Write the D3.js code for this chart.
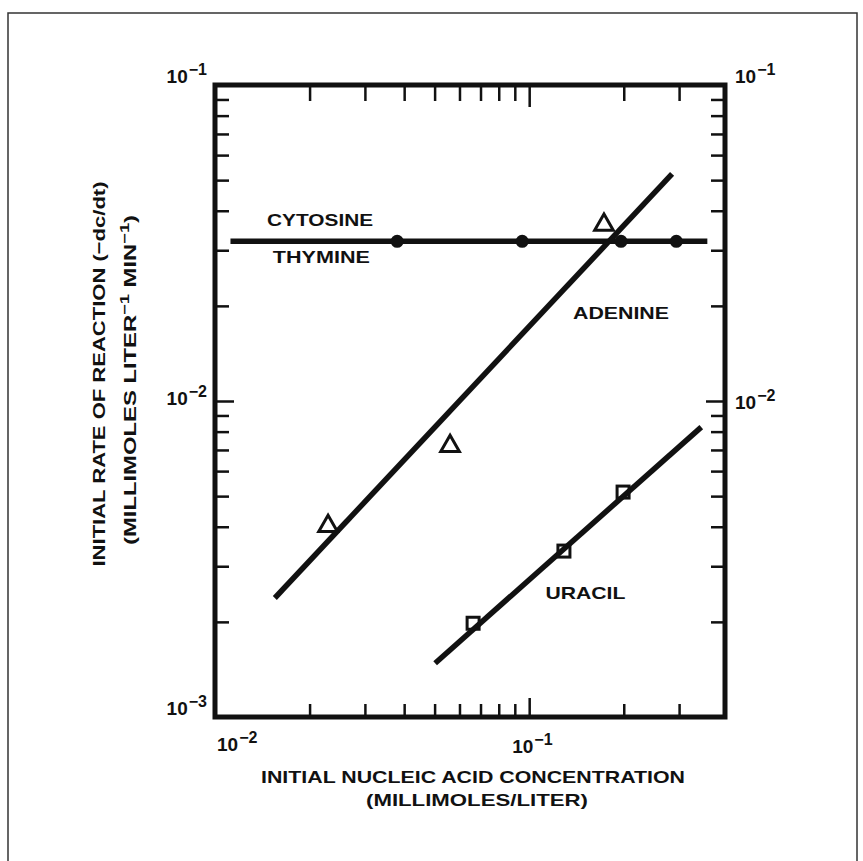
<!DOCTYPE html>
<html>
<head>
<meta charset="utf-8">
<script src="https://cdnjs.cloudflare.com/ajax/libs/d3/7.8.5/d3.min.js"></script>
<style>
  body { margin: 0; background: #fff; }
  text { font-family: "Liberation Sans", Arial, Helvetica, sans-serif; font-weight: bold; fill: #111; }
</style>
</head>
<body>
<div id="chart"></div>
<script>
// values (log-log)
var cytosineLine = [[0.0112, 0.032], [0.369, 0.032]];
var cytosinePts = [[0.038, 0.032], [0.095, 0.032], [0.196, 0.032], [0.294, 0.032]];
var adenineLine = [[0.0155, 0.00238], [0.285, 0.0523]];
var adeninePts = [[0.0229, 0.00402], [0.056, 0.0072], [0.173, 0.0361]];
var uracilLine = [[0.0502, 0.00148], [0.353, 0.00827]];
var uracilPts = [[0.0663, 0.00198], [0.129, 0.00335], [0.199, 0.00515]];

var xLabelTicks = [0.01, 0.1];
var yLabelTicks = [0.001, 0.01, 0.1];
var xMajor = [0.1];
var yMajor = [0.01];

var seriesLabels = [
  {text: "CYTOSINE", x: 0.0216, y: 0.0358, w: 106},
  {text: "THYMINE", x: 0.0218, y: 0.0273, w: 97},
  {text: "ADENINE", x: 0.196, y: 0.0182, w: 96},
  {text: "URACIL", x: 0.151, y: 0.00236, w: 80}
];

var W = 863, H = 861;
var svg = d3.select("#chart").append("svg")
    .attr("width", W)
    .attr("height", H);

// thin outer border of the scanned page
svg.append("rect")
    .attr("x", 8).attr("y", 13)
    .attr("width", 849).attr("height", 860)
    .attr("fill", "none")
    .attr("stroke", "#333")
    .attr("stroke-width", 1.5);

var pl = 215, pr = 725, pt = 85, pb = 717;
var x = d3.scaleLog().domain([0.01, 0.42]).range([pl, pr]);
var y = d3.scaleLog().domain([0.001, 0.1]).range([pb, pt]);

// minor ticks: everything except the decades
var xMinor = x.ticks().filter(function(d) {
  var p = x(d);
  return xMajor.indexOf(d) < 0 && p > pl + 4 && p < pr - 10;
});
var yMinor = y.ticks().filter(function(d) {
  var p = y(d);
  return yMajor.indexOf(d) < 0 && p > pt + 4 && p < pb - 4;
});

function tickAxis(axisFn, scale, vals, size, tx, ty) {
  var g = svg.append("g")
      .attr("transform", "translate(" + tx + "," + ty + ")")
      .call(axisFn(scale).tickValues(vals).tickSize(size).tickFormat(""));
  g.select(".domain").remove();
  g.selectAll("line").attr("stroke", "#111").attr("stroke-width", 2.5);
}

// all ticks point inwards
tickAxis(d3.axisBottom, x, xMinor, -13, 0, pb);
tickAxis(d3.axisBottom, x, xMajor, -19, 0, pb);
tickAxis(d3.axisTop, x, xMinor, -16, 0, pt);
tickAxis(d3.axisTop, x, xMajor, -22, 0, pt);
tickAxis(d3.axisLeft, y, yMinor, -14, pl, 0);
tickAxis(d3.axisLeft, y, yMajor, -19, pl, 0);
tickAxis(d3.axisRight, y, yMinor, -14, pr, 0);
tickAxis(d3.axisRight, y, yMajor, -19, pr, 0);

// frame
svg.append("rect")
    .attr("x", pl).attr("y", pt)
    .attr("width", pr - pl).attr("height", pb - pt)
    .attr("fill", "none")
    .attr("stroke", "#111")
    .attr("stroke-width", 5);

function powLabel(tx, ty, v, anchor) {
  var t = svg.append("text")
      .attr("x", tx).attr("y", ty)
      .attr("text-anchor", anchor)
      .style("font-size", "19px");
  t.append("tspan").text("10");
  t.append("tspan")
      .attr("dy", -8)
      .attr("dx", 1)
      .style("font-size", "16px")
      .text("\u2212" + (-Math.round(Math.log10(v))));
}

yLabelTicks.forEach(function(v) {
  var off = (v === 0.01) ? 4 : -2;
  powLabel(pl - 8, y(v) + off, v, "end");
  if (v !== 0.001) powLabel(pr + 10, y(v) + (v === 0.01 ? 8 : -2), v, "start");
});
xLabelTicks.forEach(function(v, i) {
  if (i === 0) powLabel(x(v) + 2, pb + 34, v, "start");
  else powLabel(x(v) - 17, pb + 36, v, "start");
});

// fitted lines
var line = d3.line()
    .x(function(d) { return x(d[0]); })
    .y(function(d) { return y(d[1]); });

[cytosineLine, adenineLine, uracilLine].forEach(function(l) {
  svg.append("path")
      .datum(l)
      .attr("d", line)
      .attr("fill", "none")
      .attr("stroke", "#111")
      .attr("stroke-width", 5.5)
      .attr("stroke-linecap", "butt");
});

// markers
svg.selectAll(".dot")
    .data(cytosinePts)
    .enter().append("circle")
    .attr("cx", function(d) { return x(d[0]); })
    .attr("cy", function(d) { return y(d[1]); })
    .attr("r", 6.5)
    .attr("fill", "#111");

var tri = d3.symbol().type(d3.symbolTriangle).size(150);
svg.selectAll(".tri")
    .data(adeninePts)
    .enter().append("path")
    .attr("d", tri)
    .attr("transform", function(d) { return "translate(" + x(d[0]) + "," + y(d[1]) + ")"; })
    .attr("fill", "#fff")
    .attr("stroke", "#111")
    .attr("stroke-width", 3);

svg.selectAll(".sq")
    .data(uracilPts)
    .enter().append("rect")
    .attr("x", function(d) { return x(d[0]) - 6; })
    .attr("y", function(d) { return y(d[1]) - 6; })
    .attr("width", 12).attr("height", 12)
    .attr("fill", "none")
    .attr("stroke", "#111")
    .attr("stroke-width", 3);

// series names
seriesLabels.forEach(function(s) {
  svg.append("text")
      .attr("x", x(s.x)).attr("y", y(s.y))
      .attr("text-anchor", "middle")
      .attr("textLength", s.w)
      .attr("lengthAdjust", "spacingAndGlyphs")
      .style("font-size", "17px")
      .text(s.text);
});

// axis titles
svg.append("text")
    .attr("x", (pl + pr) / 2 + 3).attr("y", 783)
    .attr("text-anchor", "middle")
    .attr("textLength", 424)
    .attr("lengthAdjust", "spacingAndGlyphs")
    .style("font-size", "16.5px")
    .text("INITIAL NUCLEIC ACID CONCENTRATION");
svg.append("text")
    .attr("x", (pl + pr) / 2 + 7).attr("y", 806)
    .attr("text-anchor", "middle")
    .attr("textLength", 222)
    .attr("lengthAdjust", "spacingAndGlyphs")
    .style("font-size", "16.5px")
    .text("(MILLIMOLES/LITER)");

svg.append("text")
    .attr("transform", "translate(105,374) rotate(-90)")
    .attr("text-anchor", "middle")
    .attr("textLength", 385)
    .attr("lengthAdjust", "spacingAndGlyphs")
    .style("font-size", "17px")
    .text("INITIAL RATE OF REACTION (\u2212dc/dt)");

var yt2 = svg.append("text")
    .attr("transform", "translate(136,380) rotate(-90)")
    .attr("text-anchor", "middle")
    .attr("textLength", 330)
    .attr("lengthAdjust", "spacingAndGlyphs")
    .style("font-size", "17px");
yt2.append("tspan").text("(MILLIMOLES LITER");
yt2.append("tspan").attr("dy", -7).style("font-size", "13px").text("\u22121");
yt2.append("tspan").attr("dy", 7).text(" MIN");
yt2.append("tspan").attr("dy", -7).style("font-size", "13px").text("\u22121");
yt2.append("tspan").attr("dy", 7).text(")");
</script>
</body>
</html>
